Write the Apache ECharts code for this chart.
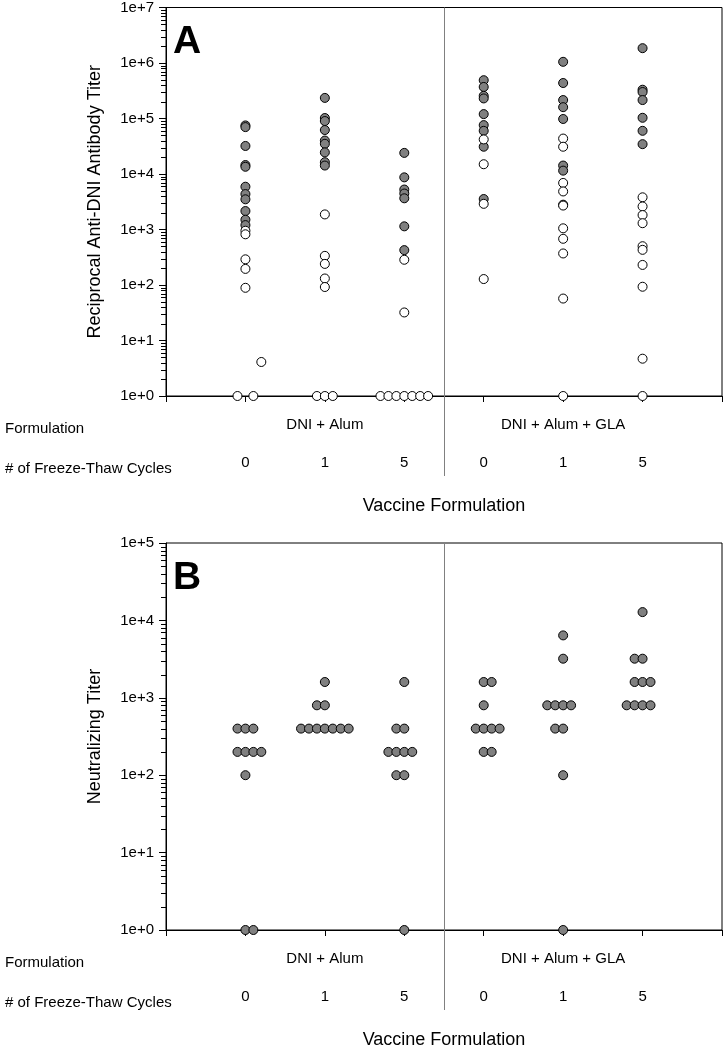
<!DOCTYPE html>
<html><head><meta charset="utf-8">
<script src="https://cdn.jsdelivr.net/npm/echarts@6/dist/echarts.min.js"></script>
<style>html,body{margin:0;padding:0;background:#fff}#c{width:725px;height:1050px}</style>
</head><body><div id="c"></div>
<script>
// ---------- data ----------
const groupX = [1, 2, 3, 4, 5, 6];
const cycleLabels = ['0', '1', '5', '0', '1', '5'];
const formulationNames = ['DNI + Alum', 'DNI + Alum + GLA'];
const formulationCenters = [2, 5];
const rowLabels = ['Formulation', '# of Freeze-Thaw Cycles'];
const xTitle = 'Vaccine Formulation';
const yTitleA = 'Reciprocal Anti-DNI Antibody Titer';
const yTitleB = 'Neutralizing Titer';

// Panel A: filled (gray) titers per group, all centred
const aFilled = [
  [75000, 70000, 32000, 14500, 13500, 5900, 4350, 3500, 2150, 1500, 1200],
  [235000, 102000, 90000, 62000, 40000, 35000, 24500, 16300, 14200],
  [24000, 8700, 5250, 4450, 3650, 1140, 425],
  [490000, 370000, 256000, 230000, 120000, 76000, 60000, 31000, 3540],
  [1050000, 436000, 215000, 160000, 98000, 14200, 11500, 2800],
  [1850000, 330000, 300000, 215000, 103000, 60000, 34500]
];
// Panel A: open (white) titers per group as [x offset, titer]
const aOpen = [
  [[0, 950], [0, 820], [0, 290], [0, 195], [0, 89], [0.2, 4.1], [-0.1, 1], [0.1, 1]],
  [[0, 1870], [0, 335], [0, 240], [0, 131], [0, 92], [-0.1, 1], [0, 1], [0.1, 1]],
  [[0, 285], [0, 32], [-0.3, 1], [-0.2, 1], [-0.1, 1], [0, 1], [0.1, 1], [0.2, 1], [0.3, 1]],
  [[0, 42000], [0, 15000], [0, 2900], [0, 128]],
  [[0, 43500], [0, 31000], [0, 6900], [0, 4850], [0, 2700], [0, 1050], [0, 680], [0, 370], [0, 57], [0, 1]],
  [[0, 3800], [0, 2600], [0, 1820], [0, 1300], [0, 500], [0, 430], [0, 230], [0, 93], [0, 4.7], [0, 1]]
];
// Panel B: neutralizing titers per group as [titer, [x offsets of the dots in that row]]
const bRows = [
  [[400, [-0.1, 0, 0.1]], [200, [-0.1, 0, 0.1, 0.2]], [100, [0]], [1, [0, 0.1]]],
  [[1600, [0]], [800, [-0.1, 0]], [400, [-0.3, -0.2, -0.1, 0, 0.1, 0.2, 0.3]]],
  [[1600, [0]], [400, [-0.1, 0]], [200, [-0.2, -0.1, 0, 0.1]], [100, [-0.1, 0]], [1, [0]]],
  [[1600, [0, 0.1]], [800, [0]], [400, [-0.1, 0, 0.1, 0.2]], [200, [0, 0.1]]],
  [[6400, [0]], [3200, [0]], [800, [-0.2, -0.1, 0, 0.1]], [400, [-0.1, 0]], [100, [0]], [1, [0]]],
  [[12800, [0]], [3200, [-0.1, 0]], [1600, [-0.1, 0, 0.1]], [800, [-0.2, -0.1, 0, 0.1]]]
];

// ---------- build ----------
const FONT = '"Liberation Sans", Arial, Helvetica, sans-serif';
const aFilledData = [], aOpenData = [], bData = [];
aFilled.forEach((vals, g) => vals.forEach(v => aFilledData.push([groupX[g], v])));
aOpen.forEach((pts, g) => pts.forEach(p => aOpenData.push([groupX[g] + p[0], p[1]])));
bRows.forEach((rows, g) => rows.forEach(r => r[1].forEach(dx => bData.push([groupX[g] + dx, r[0]]))));

function minorValues(maxExp) {
  const out = [];
  for (let e = 0; e < maxExp; e++) for (let m = 2; m <= 9; m++) out.push(m * Math.pow(10, e));
  return out;
}
function xLabel(v) {
  const i = groupX.indexOf(Math.round(v));
  if (i < 0 || Math.abs(v - Math.round(v)) > 1e-6) return '';
  const fi = formulationCenters.indexOf(groupX[i]);
  return '{f|' + (fi >= 0 ? formulationNames[fi] : ' ') + '}\n{c|' + cycleLabels[i] + '}';
}
function mkX(gi) {
  return {
    type: 'value', gridIndex: gi, min: 0, max: 7, interval: 1,
    axisLine: { show: true, onZero: false, lineStyle: { color: '#000', width: 1 } },
    axisTick: { show: true, inside: false, length: 6, lineStyle: { color: '#000' } },
    splitLine: { show: false },
    axisLabel: {
      margin: 15, formatter: xLabel,
      rich: {
        f: { fontSize: 15, lineHeight: 28, fontFamily: FONT, color: '#000' },
        c: { fontSize: 15, lineHeight: 48, fontFamily: FONT, color: '#000' }
      }
    },
    name: xTitle, nameLocation: 'middle', nameGap: 101,
    nameTextStyle: { fontSize: 18, fontFamily: FONT, color: '#000' }
  };
}
function mkY(gi, maxExp, title) {
  return {
    type: 'log', logBase: 10, gridIndex: gi, min: 1, max: Math.pow(10, maxExp), interval: 1,
    axisLine: { show: true, onZero: false, lineStyle: { color: '#000', width: 1 } },
    axisTick: { show: true, inside: false, length: 7, lineStyle: { color: '#000' } },
    splitLine: { show: false },
    axisLabel: {
      margin: 12, fontSize: 15, fontFamily: FONT, color: '#000',
      formatter: v => '1e+' + Math.round(Math.log10(v))
    },
    name: title, nameLocation: 'middle', nameGap: 62, nameRotate: 90,
    nameTextStyle: { fontSize: 18, fontFamily: FONT, color: '#000' }
  };
}
const dot = (fill) => ({ color: fill, borderColor: '#000', borderWidth: 1, opacity: 1 });

const chart = echarts.init(document.getElementById('c'), null, { renderer: 'canvas' });
chart.setOption({
  animation: false,
  backgroundColor: '#fff',
  grid: [
    { left: 166, top: 5, width: 556, height: 391, show: true, borderColor: '#000', borderWidth: 1, backgroundColor: 'transparent' },
    { left: 166, top: 543, width: 556, height: 389, show: true, borderColor: '#000', borderWidth: 1, backgroundColor: 'transparent' }
  ],
  xAxis: [mkX(0), mkX(1)],
  yAxis: [mkY(0, 7, yTitleA), mkY(1, 5, yTitleB)],
  series: [
    { type: 'scatter', xAxisIndex: 0, yAxisIndex: 0, symbol: 'circle', symbolSize: 9, data: aFilledData, itemStyle: dot('#808080'), z: 3 },
    { type: 'scatter', xAxisIndex: 0, yAxisIndex: 0, symbol: 'circle', symbolSize: 9, data: aOpenData, itemStyle: dot('#ffffff'), z: 4 },
    { type: 'scatter', xAxisIndex: 1, yAxisIndex: 1, symbol: 'circle', symbolSize: 9, data: bData, itemStyle: dot('#808080'), z: 3 }
  ]
});

// ---------- decorations (minor log ticks, divider, row captions, panel letters) ----------
const gfx = [];
function panelDecor(xi, yi, maxExp, letter, extend) {
  const yMax = Math.pow(10, maxExp);
  const xd = chart.convertToPixel({ xAxisIndex: xi }, 3.5);
  const yTop = chart.convertToPixel({ yAxisIndex: yi }, yMax);
  const yAx = chart.convertToPixel({ yAxisIndex: yi }, 1);
  const xL = chart.convertToPixel({ xAxisIndex: xi }, 0);
  minorValues(maxExp).forEach(v => {
    const y = Math.round(chart.convertToPixel({ yAxisIndex: yi }, v)) + 0.5;
    gfx.push({ type: 'line', shape: { x1: Math.round(xL) - 5, y1: y, x2: Math.round(xL) + 0.5, y2: y }, style: { stroke: '#000', lineWidth: 1 }, z: 50 });
  });
  gfx.push({ type: 'line', shape: { x1: Math.round(xd) + 0.5, y1: yTop, x2: Math.round(xd) + 0.5, y2: yAx + extend }, style: { stroke: '#808080', lineWidth: 1 }, z: 1 });
  gfx.push({ type: 'text', x: 5, y: yAx + 33, style: { text: rowLabels[0], font: '15px ' + FONT, fill: '#000', align: 'left', verticalAlign: 'middle' } });
  gfx.push({ type: 'text', x: 5, y: yAx + 73, style: { text: rowLabels[1], font: '15px ' + FONT, fill: '#000', align: 'left', verticalAlign: 'middle' } });
  gfx.push({ type: 'text', x: xL + 7, y: yTop + 35, style: { text: letter, font: 'bold 39px ' + FONT, fill: '#000', align: 'left', verticalAlign: 'middle' } });
}
panelDecor(0, 0, 7, 'A', 80);
panelDecor(1, 1, 5, 'B', 80);
chart.setOption({ graphic: gfx });
</script>
</body></html>
